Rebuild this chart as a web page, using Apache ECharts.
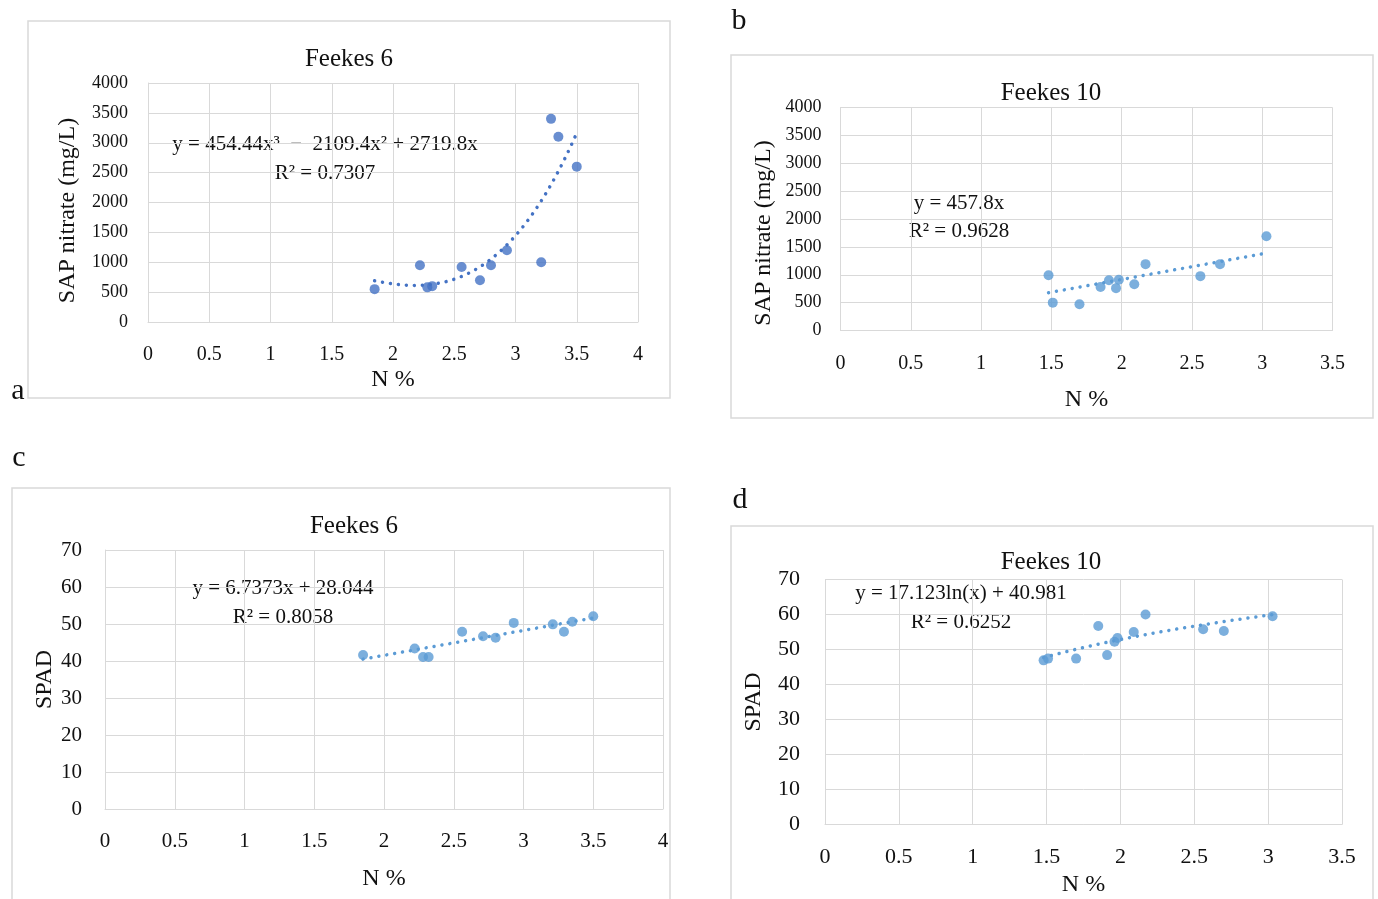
<!DOCTYPE html>
<html>
<head>
<meta charset="utf-8">
<script src="https://cdn.jsdelivr.net/npm/echarts@6/dist/echarts.min.js"></script>
<style>
  html, body { margin: 0; padding: 0; background: #fff; }
  #chart { width: 1378px; height: 899px; }
</style>
</head>
<body>
<div id="chart"></div>
<script>
// N % of the samples (same plants in a/c and in b/d)
const nFeekes6 = [1.85, 2.22, 2.28, 2.32, 2.56, 2.71, 2.80, 2.93, 3.21, 3.29, 3.35, 3.50];
const nFeekes10 = [1.48, 1.51, 1.70, 1.85, 1.91, 1.96, 1.98, 2.09, 2.17, 2.56, 2.70, 3.03];

// SAP nitrate (mg/L)
const sapFeekes6 = [550, 950, 580, 600, 920, 700, 950, 1200, 1000, 3400, 3100, 2600];
const sapFeekes10 = [990, 500, 470, 780, 900, 760, 910, 830, 1190, 975, 1190, 1690];

// SPAD readings
const spadFeekes6 = [41.6, 43.4, 41.1, 41.1, 47.9, 46.7, 46.3, 50.3, 49.9, 47.9, 50.6, 52.1];
const spadFeekes10 = [46.9, 47.4, 47.4, 56.7, 48.4, 52.2, 53.3, 55.0, 60.0, 55.8, 55.3, 59.5];

// trendline coefficients as printed on the chart
const polyA = [454.44, -2109.4, 2719.8];   // x^3, x^2, x
const linB = 457.8;                         // x
const linC = [6.7373, 28.044];              // x, const
const logD = [17.123, 40.981];              // ln(x), const

const FONT = 'Liberation Serif';
const GRID = '#d9d9d9';
const DARK = '#4472c4';
const LIGHT = '#5b9bd5';

function pairs(xs, ys) {
    return xs.map((x, i) => [x, ys[i]]);
}

// sample a fitted trend over the data's x range
function trend(xs, f) {
    const lo = Math.min(...xs), hi = Math.max(...xs);
    const pts = [];
    for (let i = 0; i <= 60; i++) {
        const x = lo + (hi - lo) * i / 60;
        pts.push([x, f(x)]);
    }
    return pts;
}

function xAxisOf(idx, max, size, gap, margin) {
    return {
        type: 'value', gridIndex: idx, min: 0, max: max, interval: 0.5,
        name: 'N %', nameLocation: 'middle', nameGap: gap,
        nameTextStyle: { fontFamily: FONT, fontSize: 24, color: '#111' },
        axisLine: { show: true, lineStyle: { color: GRID, width: 1 } },
        axisTick: { show: false },
        splitLine: { show: true, lineStyle: { color: GRID, width: 1 } },
        axisLabel: { fontFamily: FONT, fontSize: size, color: '#111', margin: margin }
    };
}

function yAxisOf(idx, max, step, name, size, gap, margin, shift) {
    return {
        type: 'value', gridIndex: idx, min: 0, max: max, interval: step,
        name: name, nameLocation: 'middle', nameGap: gap,
        nameTextStyle: {
            fontFamily: FONT, fontSize: 24, color: '#111',
            padding: [0, shift, 0, 0]
        },
        axisLine: { show: true, lineStyle: { color: GRID, width: 1 } },
        axisTick: { show: false },
        splitLine: { show: true, lineStyle: { color: GRID, width: 1 } },
        axisLabel: {
            fontFamily: FONT, fontSize: size, color: '#111', margin: margin,
            formatter: v => String(v)
        }
    };
}

function dots(idx, data, color) {
    return {
        type: 'scatter', xAxisIndex: idx, yAxisIndex: idx, data: data,
        symbolSize: 10, itemStyle: { color: color }, z: 3
    };
}

function fitLine(idx, data, color) {
    return {
        type: 'line', xAxisIndex: idx, yAxisIndex: idx, data: data,
        showSymbol: false, smooth: false, silent: true, z: 2,
        lineStyle: { color: color, width: 3.5, type: [0.01, 8], cap: 'round' }
    };
}

function label(x, y, text, size, align) {
    return {
        type: 'text', x: x, y: y,
        style: {
            text: text, fontFamily: FONT, fontSize: size, fill: '#111',
            align: align || 'center', verticalAlign: 'middle'
        }
    };
}

function box(x, y, w, h) {
    return {
        type: 'rect', shape: { x: x, y: y, width: w, height: h }, silent: true,
        style: { fill: 'none', stroke: GRID, lineWidth: 1.5 }
    };
}

const option = {
    backgroundColor: '#fff',
    animation: false,
    grid: [
        { left: 148, top: 83, width: 490, height: 239 },
        { left: 840.5, top: 107.5, width: 492, height: 223 },
        { left: 105, top: 550, width: 558, height: 259 },
        { left: 825, top: 579.5, width: 517, height: 245 }
    ],
    xAxis: [
        xAxisOf(0, 4, 20, 46, 23),
        xAxisOf(1, 3.5, 20, 57, 23),
        xAxisOf(2, 4, 21, 58, 22),
        xAxisOf(3, 3.5, 22, 48, 22)
    ],
    yAxis: [
        yAxisOf(0, 4000, 500, 'SAP nitrate (mg/L)', 18, 68, 20, 16),
        yAxisOf(1, 4000, 500, 'SAP nitrate (mg/L)', 18, 65, 19, 28),
        yAxisOf(2, 70, 10, 'SPAD', 21, 47, 23, 0),
        yAxisOf(3, 70, 10, 'SPAD', 22, 59, 25, 0)
    ],
    series: [
        fitLine(0, trend(nFeekes6, x => polyA[0] * x * x * x + polyA[1] * x * x + polyA[2] * x), DARK),
        dots(0, pairs(nFeekes6, sapFeekes6), DARK),
        fitLine(1, trend(nFeekes10, x => linB * x), LIGHT),
        dots(1, pairs(nFeekes10, sapFeekes10), LIGHT),
        fitLine(2, trend(nFeekes6, x => linC[0] * x + linC[1]), LIGHT),
        dots(2, pairs(nFeekes6, spadFeekes6), LIGHT),
        fitLine(3, trend(nFeekes10, x => logD[0] * Math.log(x) + logD[1]), LIGHT),
        dots(3, pairs(nFeekes10, spadFeekes10), LIGHT)
    ],
    graphic: [
        box(28, 21, 642, 377),
        box(731, 55, 642, 363),
        box(12, 488, 658, 420),
        box(731, 526, 642, 380),
        label(18, 391, 'a', 30),
        label(739, 21, 'b', 30),
        label(19, 458, 'c', 30),
        label(740, 500, 'd', 30),
        label(349, 59, 'Feekes 6', 25),
        label(1051, 93, 'Feekes 10', 25),
        label(354, 526, 'Feekes 6', 25),
        label(1051, 562, 'Feekes 10', 25),
        label(325, 144, 'y = 454.44x³  −  2109.4x² + 2719.8x', 21),
        label(325, 173, 'R² = 0.7307', 21),
        label(959, 203, 'y = 457.8x', 21),
        label(959, 231, 'R² = 0.9628', 21),
        label(283, 588, 'y = 6.7373x + 28.044', 21),
        label(283, 617, 'R² = 0.8058', 21),
        label(961, 593, 'y = 17.123ln(x) + 40.981', 21),
        label(961, 622, 'R² = 0.6252', 21)
    ]
};

echarts.init(document.getElementById('chart')).setOption(option);
</script>
</body>
</html>
